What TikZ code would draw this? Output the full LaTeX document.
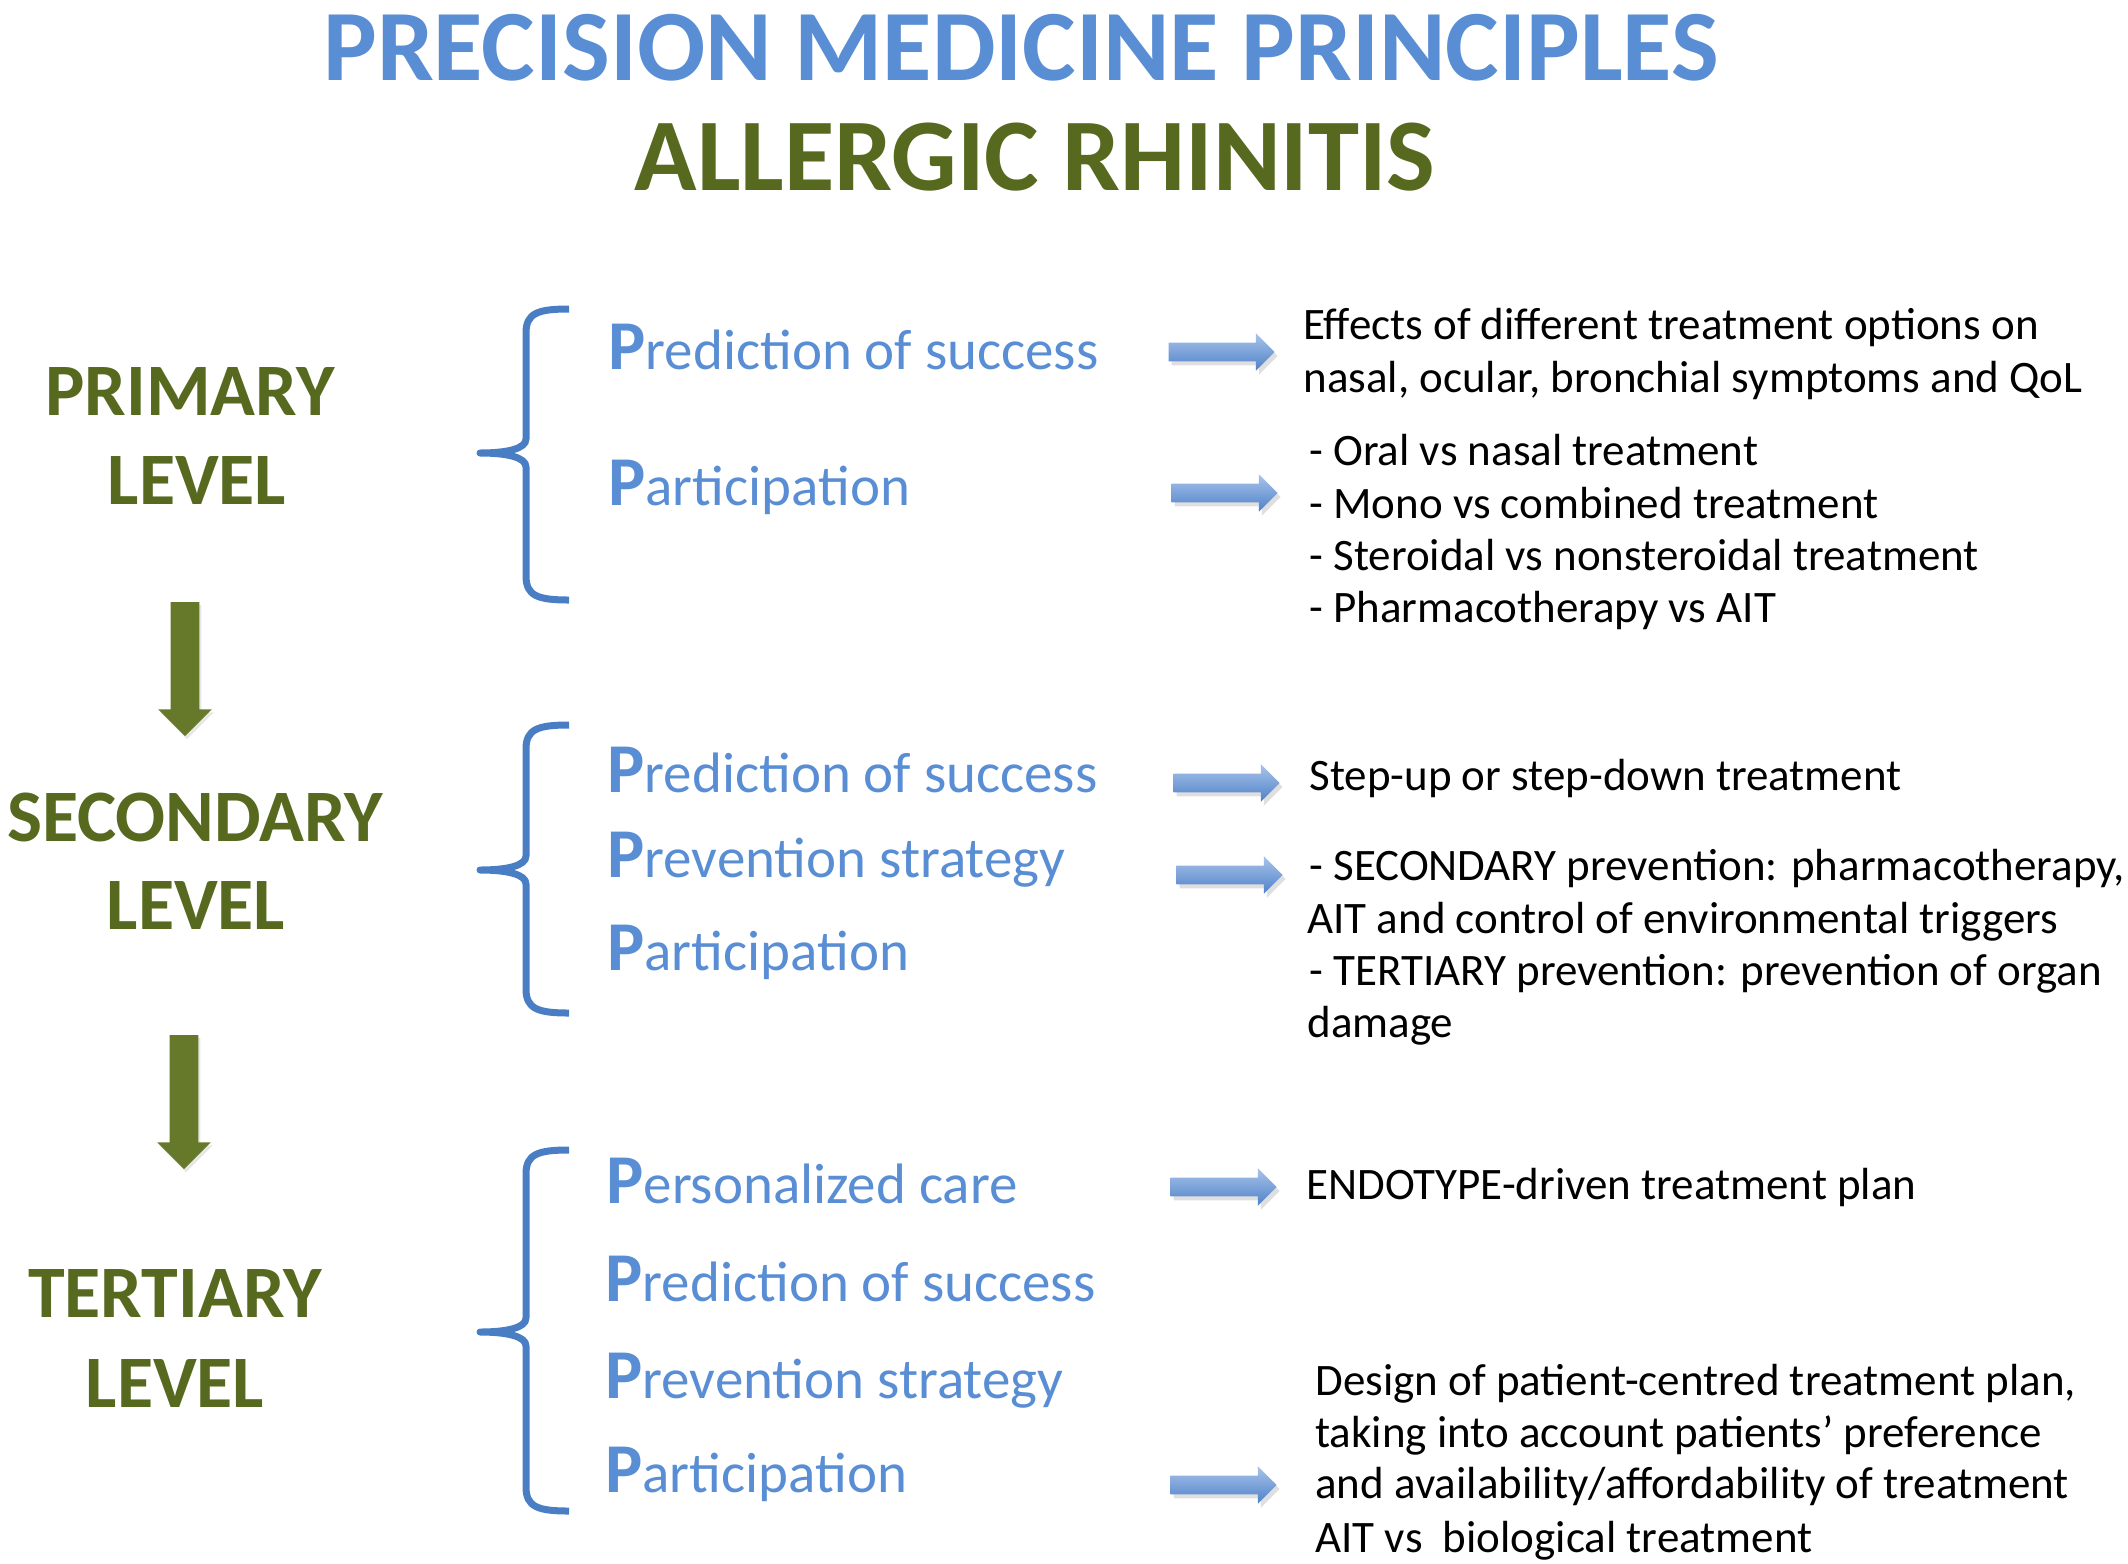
\documentclass[tikz,border=0pt]{standalone}
\usepackage{fontspec}
\setmainfont{Carlito}
\usetikzlibrary{shapes.arrows,shadows}
\definecolor{olivetxt}{HTML}{56691F}
\definecolor{olivearr}{HTML}{66782A}
\definecolor{bluetxt}{HTML}{5A8ED4}
\definecolor{bluebr}{HTML}{4A7EC4}
\definecolor{arrtop}{HTML}{A9C4EA}
\definecolor{arrbot}{HTML}{4F81C8}
\newcommand\ppitem[2]{{\bfseries\fontsize{35pt}{35pt}\selectfont #1}{\fontsize{28.5pt}{30pt}\selectfont #2}}
\newcommand\drawbrace[3]{%
  \draw[bracestyle] (569,#1) .. controls (538,#1) and (526,#1+4) .. (526,#1+24)
    -- (526,#2-14) .. controls (526,#2-4) and (506,#2) .. (480,#2)
    .. controls (506,#2) and (526,#2+4) .. (526,#2+14)
    -- (526,#3-24) .. controls (526,#3-4) and (538,#3) .. (569,#3);}
\begin{document}
\begin{tikzpicture}[x=0.5pt,y=-0.5pt,
  titleA/.style={font=\bfseries\fontsize{50.5pt}{52pt}\selectfont, text=bluetxt, inner sep=0pt, anchor=base},
  titleB/.style={font=\bfseries\fontsize{51.5pt}{52pt}\selectfont, text=olivetxt, inner sep=0pt, anchor=base},
  levellab/.style={font=\bfseries\fontsize{37pt}{37pt}\selectfont, text=olivetxt, inner sep=0pt, anchor=base},
  ptext/.style={text=bluetxt, inner sep=0pt, anchor=base west},
  rtext/.style={font=\fontsize{22.5pt}{26pt}\selectfont, text=black, inner sep=0pt, anchor=base west},
  bracestyle/.style={draw=bluebr, line width=3.5pt, line join=round},
  bluearrow/.style={single arrow, draw=none, top color=arrtop, bottom color=arrbot,
    inner xsep=0pt, inner ysep=4.5pt, minimum height=53pt, single arrow head extend=4.75pt,
    single arrow tip angle=90, drop shadow={opacity=0.25, shadow xshift=1.5pt, shadow yshift=-2pt}},
  downarrow/.style={single arrow, draw=none, fill=olivearr, rotate=-90,
    inner xsep=0pt, inner ysep=7pt, minimum height=67pt, single arrow head extend=6.25pt,
    single arrow tip angle=90, drop shadow={opacity=0.2, shadow xshift=1pt, shadow yshift=-1.5pt}}
]
\useasboundingbox (0,0) rectangle (2128,1563);

% titles
\node[titleA] (t1) at (1021,80) {PRECISION MEDICINE PRINCIPLES};
\node[titleB] (t2) at (1035,190) {ALLERGIC RHINITIS};

% level labels
\node[levellab] (l1a) at (190,415) {PRIMARY};
\node[levellab] (l1b) at (197,504) {LEVEL};
\node[levellab] (l2a) at (195,841) {SECONDARY};
\node[levellab] (l2b) at (196,929) {LEVEL};
\node[levellab] (l3a) at (175,1317) {TERTIARY};
\node[levellab] (l3b) at (175,1407) {LEVEL};

% down arrows
\node[downarrow] (d1) at (185,662) {};
\node[downarrow] (d2) at (184,1095) {};

% braces
\drawbrace{309}{453}{600}
\drawbrace{725}{870}{1013}
\drawbrace{1150}{1332}{1511}

% primary items
\node[ptext] (p1) at (608,369) {\ppitem{P}{rediction of success}};
\node[ptext] (p2) at (608,505) {\ppitem{P}{articipation}};
% secondary items
\node[ptext] (s1) at (607,792) {\ppitem{P}{rediction of success}};
\node[ptext] (s2) at (607,877) {\ppitem{P}{revention strategy}};
\node[ptext] (s3) at (607,970) {\ppitem{P}{articipation}};
% tertiary items
\node[ptext] (q1) at (606,1203) {\ppitem{P}{ersonalized care}};
\node[ptext] (q2) at (605,1301) {\ppitem{P}{rediction of success}};
\node[ptext] (q3) at (605,1398) {\ppitem{P}{revention strategy}};
\node[ptext] (q4) at (605,1492) {\ppitem{P}{articipation}};

% blue arrows
\node[bluearrow] (a1) at (1217,352) {};
\node[bluearrow] (a2) at (1220,493) {};
\node[bluearrow] (a3) at (1222,783) {};
\node[bluearrow] (a4) at (1225,875) {};
\node[bluearrow] (a5) at (1219,1187) {};
\node[bluearrow] (a6) at (1219,1485) {};

% right texts primary
\node[rtext] (r1) at (1303,339) {Effects of different treatment options on};
\node[rtext] (r2) at (1303,392) {nasal, ocular, bronchial symptoms and QoL};
\node[rtext] (r3) at (1309,465) {- Oral vs nasal treatment};
\node[rtext] (r4) at (1309,518) {- Mono vs combined treatment};
\node[rtext] (r5) at (1309,570) {- Steroidal vs nonsteroidal treatment};
\node[rtext] (r6) at (1309,622) {- Pharmacotherapy vs AIT};
% secondary
\node[rtext] (r7) at (1309,790) {Step-up or step-down treatment};
\node[rtext] (r8) at (1309,880) {- SECONDARY prevention: pharmacotherapy,};
\node[rtext] (r9) at (1307,933) {AIT and control of environmental triggers};
\node[rtext] (r10) at (1309,985) {- TERTIARY prevention: prevention of organ};
\node[rtext] (r11) at (1307,1037) {damage};
% tertiary
\node[rtext] (r12) at (1306,1199) {ENDOTYPE-driven treatment plan};
\node[rtext] (r13) at (1315,1395) {Design of patient-centred treatment plan,};
\node[rtext] (r14) at (1315,1447) {taking into account patients’ preference};
\node[rtext] (r15) at (1315,1498) {and availability/affordability of treatment};
\node[rtext] (r16) at (1315,1552) {AIT vs \ biological treatment};
\end{tikzpicture}
\end{document}
